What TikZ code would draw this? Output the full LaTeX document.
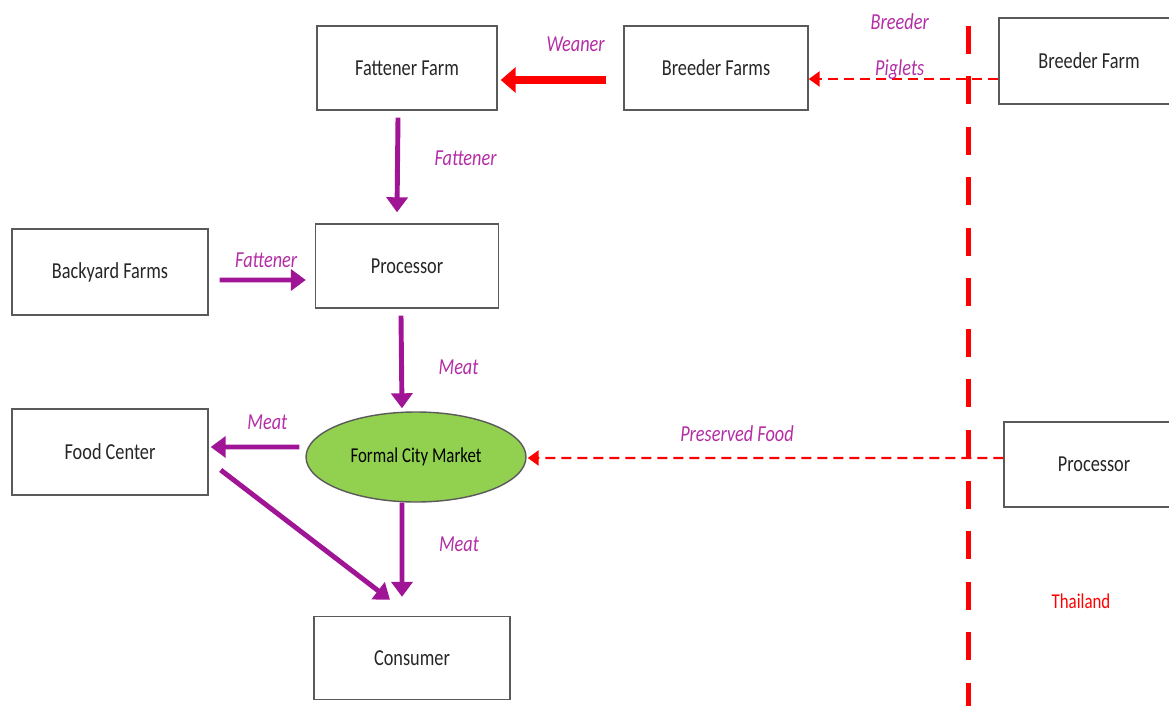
\documentclass[tikz,border=0pt]{standalone}
\usepackage{fontspec}
\setmainfont{Carlito}[FakeStretch=0.8]
\usetikzlibrary{positioning, arrows.meta, shapes.geometric}
\definecolor{flowpurple}{RGB}{160,20,150}
\definecolor{labelpink}{RGB}{180,45,165}
\definecolor{marketgreen}{RGB}{146,208,80}
\definecolor{boxgray}{RGB}{90,90,90}
\definecolor{borderred}{RGB}{255,0,0}

\tikzset{
  farm/.style={draw=boxgray, line width=0.8pt, minimum width=3.6cm,
    minimum height=1.68cm, text=black!85, inner sep=2pt},
  market/.style={ellipse, draw=boxgray, line width=0.8pt, fill=marketgreen,
    minimum width=4.4cm, minimum height=1.8cm, inner sep=0pt,
    font=\fontsize{12}{14}\selectfont},
  flow/.style={draw=flowpurple, line width=2.8pt,
    -{Triangle[length=0.3cm, width=0.42cm]}},
  weaner/.style={draw=borderred, line width=4pt,
    -{Triangle[length=0.3cm, width=0.5cm]}},
  import/.style={draw=borderred, line width=1.4pt,
    dash pattern=on 0.2cm off 0.12cm,
    -{Triangle[length=0.22cm, width=0.3cm]}},
  border/.style={draw=borderred, line width=2.85pt,
    dash pattern=on 0.56cm off 0.45cm},
  flowlabel/.style={text=labelpink, font=\fontsize{13}{15}\selectfont\itshape}
}

\begin{document}
\begin{tikzpicture}[font=\fontsize{13}{15}\selectfont, on grid]
   \useasboundingbox (0,0) rectangle (23.38,-14.12);

   \node[farm] (fattener) at (8.14,-1.36) {Fattener Farm};
   \node[farm, minimum width=3.68cm] (breeders) [right=6.18cm of fattener] {Breeder Farms};
   \node[farm, minimum height=1.72cm] (breederTH) at (21.78,-1.22) {Breeder Farm};
   \node[farm, minimum width=3.66cm] (processor) [below=3.96cm of fattener] {Processor};
   \node[farm, minimum width=3.92cm, minimum height=1.72cm] (backyard) at (2.2,-5.44) {Backyard Farms};
   \node[market] (market) at (8.32,-9.14) {Formal City Market};
   \node[farm, minimum width=3.92cm, minimum height=1.72cm] (foodcenter) [below=3.6cm of backyard] {Food Center};
   \node[farm, minimum width=3.92cm, minimum height=1.66cm] (consumer) at (8.24,-13.16) {Consumer};
   \node[farm, minimum height=1.7cm] (processorTH) at (21.88,-9.29) {Processor};
   \node[text=borderred, font=\fontsize{12}{14}\selectfont] (thailand) at (21.62,-12.02) {Thailand};

   % country border
   \coordinate (borderTop) at (19.36,-0.52);
   \coordinate (borderBottom) at (19.36,-14.3);
   \draw[border] (borderTop) -- (borderBottom);

   % pig flows
   \draw[weaner] ([xshift=-0.34cm, yshift=-0.24cm]breeders.west)
      -- node[flowlabel, pos=0.29, yshift=0.72cm] (lWeaner) {Weaner}
      ([xshift=0.06cm, yshift=-0.24cm]fattener.east);
   \draw[import] ([yshift=-0.36cm]breederTH.west)
      -- node[flowlabel, pos=0.52, yshift=0.18cm] (lPiglets) {Piglets}
         node[flowlabel, pos=0.52, yshift=1.14cm] (lBreeder) {Breeder}
      ([yshift=-0.22cm]breeders.east);
   \draw[flow] ([xshift=-0.18cm, yshift=-0.14cm]fattener.south)
      -- node[flowlabel, pos=0.43, xshift=1.36cm] (lFattenerA) {Fattener}
      ([xshift=-0.2cm, yshift=0.22cm]processor.north);
   \draw[flow] ([xshift=0.22cm, yshift=-0.16cm]backyard.east)
      -- node[flowlabel, pos=0.54, yshift=0.4cm] (lFattenerB) {Fattener}
      ([xshift=-0.18cm, yshift=-0.28cm]processor.west);

   % meat flows
   \draw[flow] ([xshift=-0.12cm, yshift=-0.14cm]processor.south)
      -- node[flowlabel, pos=0.56, xshift=1.14cm] (lMeatA) {Meat}
      ([xshift=-0.28cm, yshift=0.06cm]market.north);
   \draw[flow] ([xshift=-0.12cm, yshift=0.2cm]market.west)
      -- node[flowlabel, pos=0.36, yshift=0.5cm] (lMeatB) {Meat}
      ([xshift=0.04cm, yshift=0.1cm]foodcenter.east);
   \draw[flow] ([xshift=-0.28cm]market.south)
      -- node[flowlabel, pos=0.44, xshift=1.14cm] (lMeatC) {Meat}
      ([xshift=-0.2cm, yshift=0.38cm]consumer.north);
   \draw[flow] ([xshift=0.24cm, yshift=-0.36cm]foodcenter.east)
      -- ([xshift=-0.44cm, yshift=0.32cm]consumer.north);

   % imports from Thailand
   \draw[import] ([yshift=0.13cm]processorTH.west)
      -- node[flowlabel, pos=0.56, yshift=0.48cm] (lPreserved) {Preserved Food}
      ([xshift=0.02cm, yshift=-0.02cm]market.east);
\end{tikzpicture}
\end{document}
